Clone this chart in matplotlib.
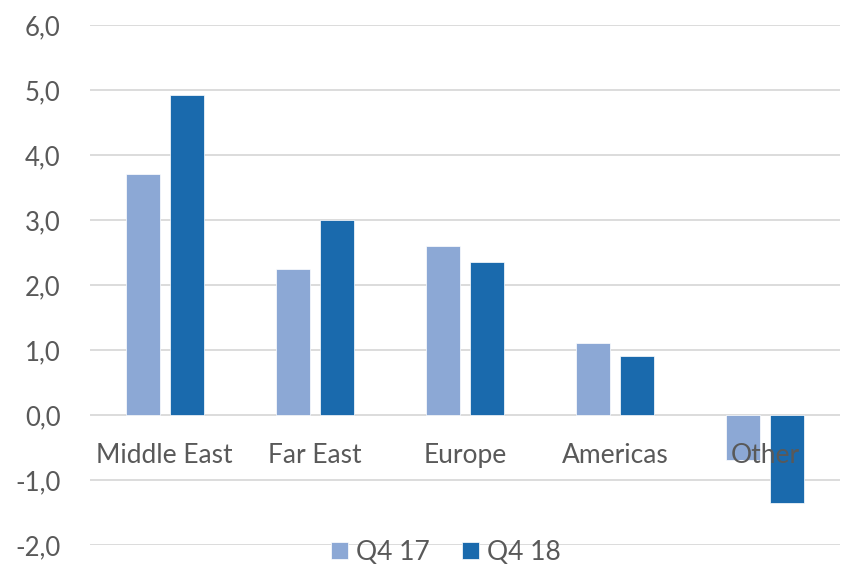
import matplotlib.pyplot as plt
import numpy as np

regions = ['Middle East', 'Far East', 'Europe', 'Americas', 'Other']
q4_17 = [3.7, 2.25, 2.6, 1.1, -0.7]
q4_18 = [4.92, 3.0, 2.35, 0.9, -1.35]
yticks = [-2, -1, 0, 1, 2, 3, 4, 5, 6]

c17 = '#8CA8D5'
c18 = '#1A6AAD'
grey = '#595959'

plt.rcParams['font.family'] = ['Lato', 'DejaVu Sans']

fig = plt.figure(figsize=(8.46, 5.67), dpi=100)
ax = fig.add_axes([0.106, 0.039, 0.887, 0.917])

x = np.arange(len(regions))
w = 0.227
gap = 0.065
ax.bar(x - (w + gap) / 2, q4_17, w, color=c17, edgecolor='white', linewidth=0.5,
       label='Q4 17', zorder=2)
ax.bar(x + (w + gap) / 2, q4_18, w, color=c18, edgecolor='white', linewidth=0.5,
       label='Q4 18', zorder=2)

ax.set_xlim(-0.5, len(regions) - 0.5)
ax.set_ylim(-2, 6)
ax.set_yticks(yticks)
ax.set_yticklabels([f'{v:.1f}'.replace('.', ',') for v in yticks])
ax.tick_params(axis='y', length=0, pad=21, labelsize=18.5, labelcolor=grey)
ax.set_xticks([])
for s in ax.spines.values():
    s.set_visible(False)
ax.grid(axis='y', color='#D9D9D9', linewidth=1.3, zorder=0)
ax.set_axisbelow(True)

# category names sit just under the zero line
for xi, name in zip(x, regions):
    ax.text(xi, -0.62, name, ha='center', va='center', fontsize=19,
            color=grey, zorder=5)

leg = fig.legend(loc='lower center', bbox_to_anchor=(0.527, -0.038), ncol=2,
                 frameon=False, fontsize=19, handlelength=0.65, handleheight=0.65,
                 handletextpad=0.3, columnspacing=1.2)
for t in leg.get_texts():
    t.set_color(grey)

fig.savefig('out.png', dpi=100)
